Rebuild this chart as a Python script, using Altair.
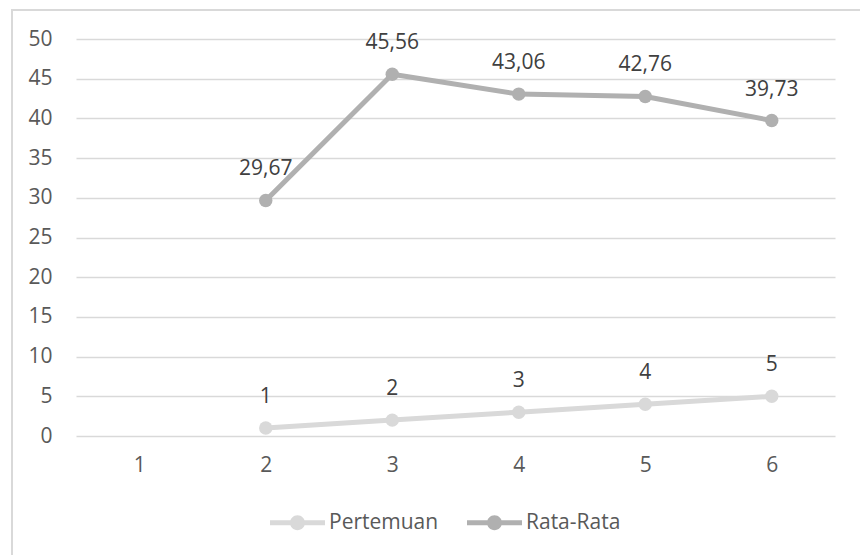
import altair as alt
import pandas as pd

# Categories on the x axis and the two series (values start at category 2)
categories = [1, 2, 3, 4, 5, 6]
series_x = [2, 3, 4, 5, 6]
pertemuan = [1, 2, 3, 4, 5]
rata_rata = [29.67, 45.56, 43.06, 42.76, 39.73]
series_names = ["Pertemuan", "Rata-Rata"]
series_colors = ["#d9d9d9", "#b0b0b0"]
y_ticks = [0, 5, 10, 15, 20, 25, 30, 35, 40, 45, 50]


def fmt(v):
    s = f"{v:.2f}" if v != int(v) else str(int(v))
    return s.replace(".", ",")


rows = []
for name, vals in zip(series_names, [pertemuan, rata_rata]):
    for x, v in zip(series_x, vals):
        rows.append({"cat": x, "value": v, "series": name, "label": fmt(v)})
df = pd.DataFrame(rows)

FONT = "Open Sans"
FS = 21
W, H = 759, 397
PAD = {"left": 76, "top": 39, "right": 25, "bottom": 119}

x_enc = alt.X("cat:O", scale=alt.Scale(domain=categories, paddingInner=0, paddingOuter=0),
              axis=alt.Axis(title=None, labelAngle=0, domain=False, ticks=False, grid=False,
                            labelPadding=18, labelFontSize=FS, labelColor="#595959",
                            labelFont=FONT))
y_enc = alt.Y("value:Q", scale=alt.Scale(domain=[0, 50], nice=False),
              axis=alt.Axis(title=None, values=y_ticks, domain=False, ticks=False,
                            labelPadding=24, labelFontSize=FS, labelColor="#595959",
                            labelFont=FONT, gridColor="#d9d9d9", gridWidth=1.5))

# Legend glyph: a short thick line with a dot in the middle
legend_symbol = ("M-1,-0.09L1,-0.09L1,0.09L-1,0.09Z "
                 "M-0.27,0A0.27,0.27,0,1,1,0.27,0A0.27,0.27,0,1,1,-0.27,0Z")
legend = alt.Legend(title=None, orient="none", direction="horizontal",
                    legendX=194, legendY=456, symbolType=legend_symbol,
                    symbolSize=3025, symbolStrokeWidth=0,
                    labelFontSize=FS, labelFont=FONT, labelColor="#595959",
                    labelOffset=4, columnPadding=28)
color_scale = alt.Scale(domain=series_names, range=series_colors)

base = alt.Chart(df)

lines = base.mark_line(strokeWidth=5, strokeCap="round", strokeJoin="round").encode(
    x=x_enc, y=y_enc,
    stroke=alt.Stroke("series:N", scale=color_scale, legend=legend),
    detail="series:N",
)

points = base.mark_circle(size=180, opacity=1).encode(
    x=x_enc, y=y_enc,
    fill=alt.Fill("series:N", scale=color_scale, legend=legend),
)

labels = base.mark_text(dy=-31, fontSize=FS, font=FONT, color="#404040",
                        baseline="middle").encode(
    x=x_enc, y=y_enc, text="label:N",
)

# Outer frame of the chart area (left and top edges)
frame_left = alt.Chart(pd.DataFrame({"k": [0]})).mark_rule(color="#d9d9d9", strokeWidth=2).encode(
    x=alt.value(-64), y=alt.value(-30), y2=alt.value(H + PAD["bottom"] + 5))
frame_top = alt.Chart(pd.DataFrame({"k": [0]})).mark_rule(color="#d9d9d9", strokeWidth=2).encode(
    y=alt.value(-29), x=alt.value(-65), x2=alt.value(W + PAD["right"] + 5))

chart = alt.layer(frame_left, frame_top, lines, points, labels).properties(
    width=W, height=H, autosize="none", padding=PAD, background="white",
).configure_view(stroke=None)

chart.save("out.html", embed_options={"renderer": "svg", "actions": False})
